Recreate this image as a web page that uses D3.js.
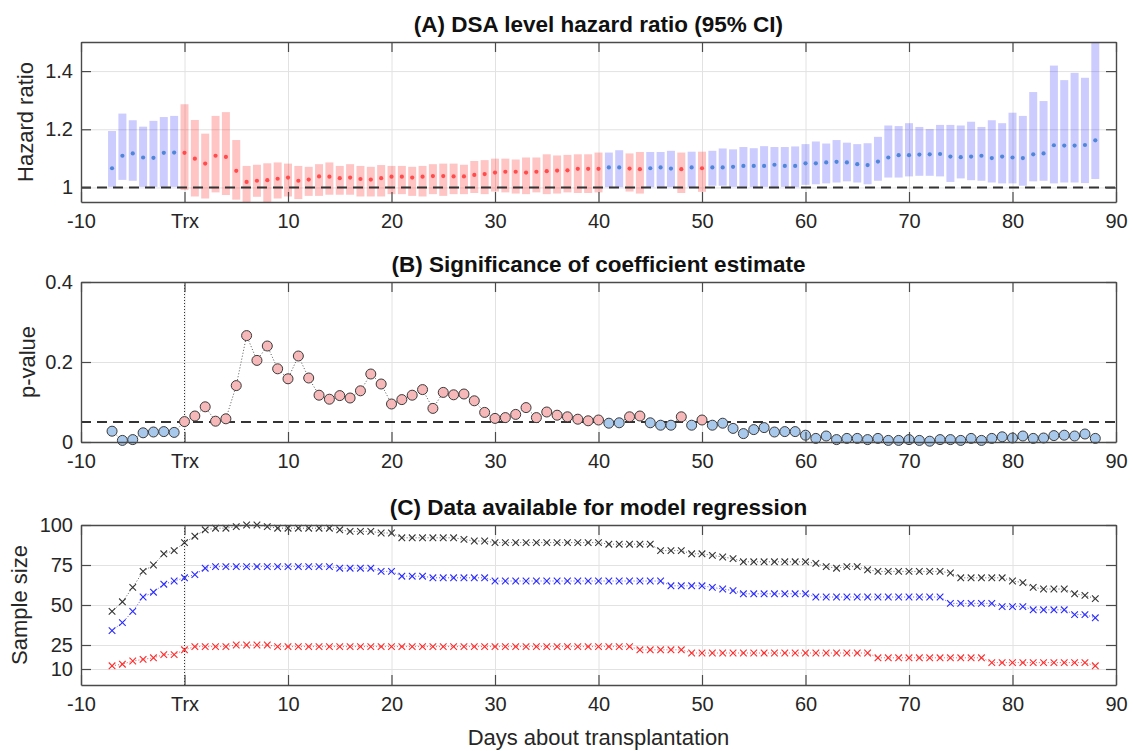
<!DOCTYPE html>
<html><head><meta charset="utf-8">
<script src="https://cdn.jsdelivr.net/npm/d3@7"></script>
<style>
body{margin:0;background:#fff;}
svg text{font-family:"Liberation Sans",Arial,Helvetica,sans-serif;}
</style></head><body>
<svg id="chart" width="1133" height="751"></svg>
<script>
// ---------- DATA ----------
const days = [-7,-6,-5,-4,-3,-2,-1,0,1,2,3,4,5,6,7,8,9,10,11,12,13,14,15,16,17,18,19,20,21,22,23,24,25,26,27,28,29,30,31,32,33,34,35,36,37,38,39,40,41,42,43,44,45,46,47,48,49,50,51,52,53,54,55,56,57,58,59,60,61,62,63,64,65,66,67,68,69,70,71,72,73,74,75,76,77,78,79,80,81,82,83,84,85,86,87,88];

const hazardRatio = [1.066,1.109,1.117,1.103,1.102,1.119,1.120,1.119,1.099,1.082,1.109,1.105,1.057,1.019,1.023,1.025,1.030,1.034,1.023,1.027,1.038,1.037,1.032,1.034,1.029,1.027,1.032,1.037,1.037,1.034,1.037,1.039,1.039,1.038,1.038,1.043,1.046,1.051,1.054,1.054,1.051,1.054,1.056,1.058,1.059,1.064,1.064,1.064,1.069,1.069,1.065,1.063,1.066,1.069,1.065,1.063,1.069,1.066,1.069,1.069,1.071,1.074,1.074,1.074,1.078,1.074,1.074,1.083,1.083,1.086,1.088,1.086,1.080,1.077,1.089,1.103,1.111,1.111,1.113,1.114,1.115,1.106,1.104,1.106,1.109,1.101,1.106,1.103,1.101,1.114,1.117,1.145,1.144,1.144,1.146,1.162];

const ciUpper = [1.194,1.254,1.231,1.209,1.229,1.242,1.246,1.286,1.232,1.185,1.246,1.259,1.163,1.074,1.078,1.083,1.086,1.082,1.074,1.071,1.080,1.086,1.074,1.080,1.074,1.071,1.077,1.074,1.074,1.071,1.074,1.080,1.082,1.082,1.078,1.091,1.094,1.099,1.099,1.096,1.103,1.103,1.114,1.110,1.112,1.114,1.114,1.120,1.120,1.128,1.117,1.122,1.122,1.122,1.126,1.120,1.123,1.123,1.126,1.134,1.131,1.139,1.135,1.142,1.139,1.139,1.141,1.149,1.158,1.151,1.163,1.154,1.149,1.152,1.174,1.213,1.211,1.221,1.208,1.201,1.215,1.215,1.213,1.226,1.208,1.231,1.221,1.257,1.246,1.328,1.297,1.419,1.369,1.394,1.377,1.520];

const ciLower = [1.002,1.026,1.023,1.002,1.002,1.002,1.002,0.991,0.969,0.962,0.983,0.974,0.958,0.948,0.968,0.948,0.962,0.969,0.960,0.971,0.971,0.975,0.975,0.975,0.969,0.969,0.969,0.977,0.977,0.971,0.969,0.977,0.971,0.977,0.977,0.981,0.977,0.986,0.983,0.979,0.977,0.983,0.977,0.979,0.983,0.981,0.981,0.983,1.001,1.001,0.986,0.979,1.001,1.001,1.001,0.981,1.001,0.985,1.006,1.006,1.002,1.002,1.001,1.002,1.001,1.002,1.001,1.009,1.011,1.014,1.017,1.021,1.017,1.011,1.023,1.034,1.034,1.038,1.040,1.040,1.038,1.019,1.031,1.025,1.023,1.017,1.014,1.014,1.006,1.021,1.023,1.014,1.017,1.017,1.015,1.029];

const pValue = [0.027,0.004,0.006,0.023,0.025,0.026,0.024,0.051,0.065,0.088,0.052,0.058,0.141,0.266,0.204,0.240,0.183,0.158,0.215,0.160,0.117,0.107,0.116,0.110,0.128,0.170,0.145,0.095,0.106,0.117,0.131,0.084,0.124,0.118,0.120,0.103,0.074,0.059,0.061,0.069,0.086,0.061,0.075,0.067,0.063,0.057,0.053,0.055,0.047,0.048,0.063,0.065,0.048,0.042,0.042,0.063,0.042,0.055,0.042,0.047,0.034,0.021,0.031,0.036,0.025,0.026,0.026,0.017,0.009,0.015,0.006,0.009,0.009,0.006,0.009,0.004,0.004,0.006,0.004,0.002,0.006,0.006,0.004,0.009,0.004,0.009,0.013,0.010,0.015,0.009,0.010,0.016,0.017,0.015,0.020,0.009];

const sampleTotal = [46,52,61,71,75,82,84,89,93,97,98,98,99,100,100,99,98,98,98,98,98,98,97,96,96,96,95,95,92,92,92,92,92,92,91,90,90,89,89,89,89,89,89,89,89,89,89,89,88,88,88,88,88,84,84,84,82,82,81,80,79,77,77,77,77,77,77,77,76,74,73,74,74,72,71,71,71,71,71,71,71,70,67,67,67,67,67,65,64,61,60,60,60,57,56,54];
const sampleBlue = [34,39,46,55,58,63,65,67,69,73,74,74,74,74,74,74,74,74,74,74,74,74,73,73,73,73,71,71,68,68,68,67,67,67,67,67,67,65,65,65,65,65,65,65,65,65,65,65,65,65,65,65,65,65,62,62,62,62,61,60,59,57,57,57,57,57,57,57,55,55,55,55,55,55,55,55,55,55,55,55,55,51,51,51,51,51,49,49,49,47,47,47,47,44,44,42];
const sampleRed = [12,13,15,16,17,19,19,22,24,24,24,24,25,25,25,25,24,24,24,24,24,24,24,24,24,24,24,24,24,24,24,24,24,24,24,24,24,24,24,24,24,24,24,24,24,24,24,24,24,24,24,22,22,22,22,22,20,20,20,20,20,20,20,20,20,20,20,20,20,20,20,20,20,20,17,17,17,17,17,17,17,17,17,17,17,14,14,14,14,14,14,14,14,14,14,12];

const xTickValues = [-10,0,10,20,30,40,50,60,70,80,90];
const xTickLabels = ["-10","Trx","10","20","30","40","50","60","70","80","90"];
const hrTicks = [1,1.2,1.4];
const pTicks = [0,0.2,0.4];
const nTicks = [10,25,50,75,100];
const titles = ["(A) DSA level hazard ratio (95% CI)","(B) Significance of coefficient estimate","(C) Data available for model regression"];
const yLabels = ["Hazard ratio","p-value","Sample size"];
const xLabel = "Days about transplantation";
const pThreshold = 0.05;

// ---------- LAYOUT ----------
const svg = d3.select("#chart");
const L = 81, R = 1116;
const x = d3.scaleLinear().domain([-10,90]).range([L,R]);
const panels = [
  {top:42, bottom:202, domain:[0.95,1.5], ticks:hrTicks, fmt:d=>d===1?"1":d3.format(".1f")(d), ylx:33},
  {top:282, bottom:442, domain:[0,0.4], ticks:pTicks, fmt:d=>d===0?"0":d3.format(".1f")(d), ylx:35},
  {top:525, bottom:685, domain:[0,100], ticks:nTicks, fmt:d=>String(d), ylx:27}
];
panels.forEach(p => { p.y = d3.scaleLinear().domain(p.domain).range([p.bottom,p.top]); });

const gridColor = "#e2e2e2", axisColor = "#4a4a4a", textColor = "#262626";
const sig = days.map((d,i) => pValue[i] <= pThreshold);

svg.append("defs").append("clipPath").attr("id","clipA")
  .append("rect").attr("x",L).attr("y",panels[0].top).attr("width",R-L).attr("height",panels[0].bottom-panels[0].top);

function drawFrame(p){
  const g = svg.append("g");
  g.append("g").attr("transform",`translate(0,${p.bottom})`)
    .call(d3.axisBottom(x).tickValues(xTickValues).tickSize(-(p.bottom-p.top)).tickFormat(""))
    .call(s=>{s.select(".domain").remove(); s.selectAll("line").attr("stroke",gridColor);});
  g.append("g").attr("transform",`translate(${L},0)`)
    .call(d3.axisLeft(p.y).tickValues(p.ticks).tickSize(-(R-L)).tickFormat(""))
    .call(s=>{s.select(".domain").remove(); s.selectAll("line").attr("stroke",gridColor);});
}
function styleAxis(s){
  s.select(".domain").attr("stroke",axisColor).attr("stroke-width",1.4);
  s.selectAll("line").attr("stroke",axisColor).attr("stroke-width",1.2);
  s.selectAll("text").attr("fill",textColor).style("font-size","20px");
}
function drawAxes(p, i){
  const g = svg.append("g");
  g.append("g").attr("transform",`translate(0,${p.bottom})`)
    .call(d3.axisBottom(x).tickValues(xTickValues).tickSizeInner(-10).tickSizeOuter(0).tickPadding(12)
      .tickFormat((d,k)=>xTickLabels[k])).call(styleAxis);
  g.append("g").attr("transform",`translate(0,${p.top})`)
    .call(d3.axisTop(x).tickValues(xTickValues).tickSizeInner(-10).tickSizeOuter(0).tickFormat("")).call(styleAxis);
  g.append("g").attr("transform",`translate(${L},0)`)
    .call(d3.axisLeft(p.y).tickValues(p.ticks).tickSizeInner(-10).tickSizeOuter(0).tickPadding(8).tickFormat(p.fmt))
    .call(styleAxis);
  g.append("g").attr("transform",`translate(${R},0)`)
    .call(d3.axisRight(p.y).tickValues(p.ticks).tickSizeInner(-10).tickSizeOuter(0).tickFormat("")).call(styleAxis);
  svg.append("text").attr("x",(L+R)/2).attr("y",p.top-10).attr("text-anchor","middle")
    .style("font-weight","bold").style("font-size","22.5px").attr("fill","#111").text(titles[i]);
  svg.append("text").attr("transform",`translate(${p.ylx},${(p.top+p.bottom)/2}) rotate(-90)`)
    .attr("text-anchor","middle").style("font-size","22px").attr("fill",textColor).text(yLabels[i]);
}

// ---------- PANEL A ----------
const pA = panels[0];
drawFrame(pA);
const gA = svg.append("g").attr("clip-path","url(#clipA)");
const bw = 8;
gA.selectAll("rect").data(days).join("rect")
  .attr("x",d=>x(d)-bw/2).attr("width",bw)
  .attr("y",(d,i)=>pA.y(ciUpper[i])).attr("height",(d,i)=>pA.y(ciLower[i])-pA.y(ciUpper[i]))
  .attr("fill",(d,i)=>sig[i]?"#0000ff":"#ff0000").attr("fill-opacity",(d,i)=>sig[i]?0.2:0.23);
svg.append("line").attr("x1",L).attr("x2",R).attr("y1",pA.y(1)).attr("y2",pA.y(1))
  .attr("stroke","#333").attr("stroke-width",2).attr("stroke-dasharray","10,6");
gA.selectAll("circle").data(days).join("circle")
  .attr("cx",d=>x(d)).attr("cy",(d,i)=>pA.y(hazardRatio[i])).attr("r",2.1)
  .attr("fill",(d,i)=>sig[i]?"#4f86d8":"#ff4b4b");
drawAxes(pA,0);

// ---------- PANEL B ----------
const pB = panels[1];
drawFrame(pB);
svg.append("line").attr("x1",x(0)).attr("x2",x(0)).attr("y1",pB.top).attr("y2",pB.bottom)
  .attr("stroke","#333").attr("stroke-width",1).attr("stroke-dasharray","1,2");
svg.append("line").attr("x1",L).attr("x2",R).attr("y1",pB.y(pThreshold)).attr("y2",pB.y(pThreshold))
  .attr("stroke","#333").attr("stroke-width",2).attr("stroke-dasharray","10,6");
svg.append("path").datum(days)
  .attr("d",d3.line().x(d=>x(d)).y((d,i)=>pB.y(pValue[i])))
  .attr("fill","none").attr("stroke","#555").attr("stroke-width",1).attr("stroke-dasharray","1,2");
svg.append("g").selectAll("circle").data(days).join("circle")
  .attr("cx",d=>x(d)).attr("cy",(d,i)=>pB.y(pValue[i])).attr("r",5)
  .attr("fill",(d,i)=>sig[i]?"#a9c9ec":"#f6b8b8").attr("stroke","#3a3a3a").attr("stroke-width",1);
drawAxes(pB,1);

// ---------- PANEL C ----------
const pC = panels[2];
drawFrame(pC);
svg.append("line").attr("x1",x(0)).attr("x2",x(0)).attr("y1",pC.top).attr("y2",pC.bottom)
  .attr("stroke","#333").attr("stroke-width",1).attr("stroke-dasharray","1,2");
const series = [
  {vals:sampleTotal, color:"#333333"},
  {vals:sampleBlue, color:"#2a2aff"},
  {vals:sampleRed, color:"#ff2a2a"}
];
series.forEach(s=>{
  const g = svg.append("g");
  g.append("path").datum(days)
    .attr("d",d3.line().x(d=>x(d)).y((d,i)=>pC.y(s.vals[i])))
    .attr("fill","none").attr("stroke",s.color).attr("stroke-width",0.8).attr("stroke-dasharray","1,2");
  const m = 3.3;
  g.selectAll("path.x").data(days).join("path").attr("class","x")
    .attr("d",(d,i)=>{const cx=x(d), cy=pC.y(s.vals[i]);
      return `M${cx-m},${cy-m}L${cx+m},${cy+m}M${cx-m},${cy+m}L${cx+m},${cy-m}`;})
    .attr("stroke",s.color).attr("stroke-width",1.1).attr("fill","none");
});
drawAxes(pC,2);

svg.append("text").attr("x",(L+R)/2).attr("y",745).attr("text-anchor","middle")
  .style("font-size","22px").attr("fill",textColor).text(xLabel);
</script>
</body></html>
